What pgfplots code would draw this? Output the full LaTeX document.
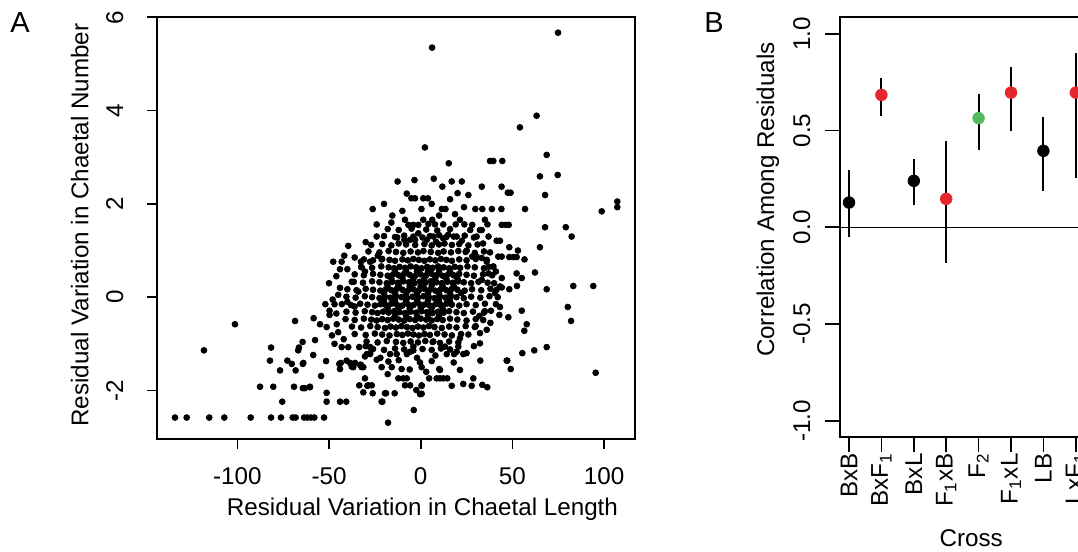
\documentclass[border=0pt]{standalone}
\usepackage{pgfplots}
\pgfplotsset{compat=1.18}
\usepackage{fontspec}
\setmainfont{Liberation Sans}
\definecolor{dotred}{RGB}{228,38,45}
\definecolor{dotgreen}{RGB}{85,185,95}
\begin{document}
\fontsize{12.1}{14}\selectfont
\begin{tikzpicture}
\pgfplotsset{
  rstyle/.style={
    scale only axis,
    axis line style={line width=0.8pt,black},
    tick align=outside,
    xtick pos=left, ytick pos=left,
    major tick style={line width=0.8pt,black},
    minor tick num=0,
    clip=true,
  }
}
% ---------------- Panel A ----------------
\begin{axis}[rstyle,
  at={(78.5pt,56.5pt)}, anchor=south west,
  width=239pt, height=210.85pt,
  xmin=-143.8, xmax=116.85, ymin=-3.04, ymax=6.0,
  major tick length=5pt,
  xtick={-100,-50,0,50,100}, xticklabels={-100,-50,0,50,100},
  ytick={-2,0,2,4,6}, yticklabels={-2,0,2,4,6},
  xticklabel style={anchor=base, yshift=-18pt, inner sep=0pt},
  yticklabel style={xshift=-12pt, rotate=90, anchor=base, inner sep=0pt},
  xlabel={Residual Variation in Chaetal Length},
  ylabel={Residual Variation in Chaetal Number},
  xlabel style={at={(axis description cs:0.5554,-0.1819)}, anchor=base, inner sep=0pt},
  ylabel style={at={(axis description cs:-0.1437,0.5075)}, anchor=base, inner sep=0pt},
]
\addplot[only marks, mark=*, mark size=1.45pt, black] coordinates {
(6.2,5.35) (74.9,5.67) (2.3,3.21) (15.3,2.87) (63.2,3.89) (54.1,3.64) (68.7,3.05)
(37.8,2.92) (39.6,2.92) (44.5,2.92)
(-12.6,2.48) (-3.4,2.51) (7.1,2.54) (11.8,2.37) (16.9,2.48) (22.4,2.48) (33.3,2.37) (44.1,2.37) (47.5,2.24) (49.0,2.24) (65,2.59) (74.7,2.62) (67.8,2.19)
(-7.6,2.22) (-5.1,2.12) (-3.1,2.12) (1.4,2.12) (3.9,2.12) (20.1,2.23) (26,2.19)
(-26.2,1.89) (-15.5,1.75) (-24,1.56) (0.4,1.89) (11.5,1.89) (13.5,1.89) (23.6,1.93) (29.8,1.89) (33.6,1.89) (38.8,1.89) (44,1.89) (56.9,1.89)
(107.2,2.05) (107.2,1.93) (98.7,1.84)
(-8.6,1.66) (-6.7,1.55) (-4,1.55) (-1.3,1.55) (1.4,1.66) (4.2,1.57) (6.3,1.66) (7.8,1.56) (12.3,1.56) (18.7,1.78) (19.1,1.56) (21.4,1.66) (23.8,1.56) (28.1,1.55) (32.3,1.44) (35,1.66) (36.4,1.56) (44.2,1.55) (46.3,1.55) (48,1.55)
(67.8,1.5) (79.1,1.5) (82.3,1.3) (65,1.07)
(-12.8,1.28) (-8.9,1.23) (-5.8,1.23) (-3.1,1.23) (-1.3,1.37) (3.3,1.23) (6.9,1.3) (8.3,1.19) (12.3,1.26) (15,1.34) (19.6,1.3) (22.4,1.21) (30.5,1.3) (33.3,1.44) (41.4,1.21) (43.2,1.21)
(-39.5,1.1) (-47.7,0.76) (-43.1,0.76) (-41.7,0.89) (-32.6,0.76) (-27.6,0.76) (-23.4,0.89) (-21.3,0.81)
(48.3,1.07) (53,1.0) (56.6,0.81) (48.3,0.86) (50.5,0.86) (52.3,0.86) (42.3,0.87) (44.2,0.87) (37.8,0.96) (36,0.76) (39.6,0.66) (28.1,0.87) (30.5,0.87) (33.3,0.84) (25.1,1.0)
(62.3,0.53) (52.3,0.51) (55.1,0.41) (44.2,0.41) (33.3,0.37) (36.9,0.51) (-37.6,0.33) (-32.2,0.64) (-30.4,0.55) (-34,0.12)
(68.7,0.17) (83.2,0.24) (94.1,0.24) (52.5,0.24) (48.3,0.17) (43.2,0.23) (41.4,0.16) (40.5,0.09) (44.2,0.21)
(80.2,-0.21) (82,-0.51) (55.1,-0.29) (57.8,-0.58) (56.5,-0.72) (43.2,-0.21) (42.9,-0.38) (47.8,-0.43) (38.3,-0.29)
(68.7,-1.07) (61.9,-1.14) (55.4,-1.2) (47.2,-1.36) (49.1,-1.54) (95.4,-1.62) (32.5,-1.36)
(21.4,-1.56) (23.2,-1.86) (27.8,-1.9) (28.7,-1.74) (33.6,-1.88) (36.3,-1.93) (16.9,-1.9)
(8.7,-1.74) (10.5,-1.74) (12.3,-1.74) (14.5,-1.74) (10.5,-1.56) (6,-1.37) (0.5,-1.9) (0.5,-2.07)
(32.3,-0.77) (34.1,-0.49) (32,-0.4) (32.3,-0.99) (21.4,-0.88) (20.5,-1.06) (19.6,-1.17) (23.2,-1.22) (18.2,-1.22) (14.2,-1.22) (13.2,-1.06)
(-134,-2.58) (-127.6,-2.58) (-115.3,-2.58) (-107.1,-2.58) (-92.7,-2.58) (-81.6,-2.58) (-76.2,-2.58) (-69.8,-2.58) (-68.2,-2.58) (-63.6,-2.58) (-61.8,-2.58) (-59.8,-2.58) (-58,-2.58) (-52.7,-2.58)
(-17.8,-2.69) (-101.3,-0.58) (-118.2,-1.14) (-3.8,-2.42)
(-75.5,-2.24) (-51.3,-2.24) (-44,-2.24) (-40.6,-2.24) (-20.9,-2.24)
(-87.6,-1.92) (-80.4,-1.92) (-69.1,-1.92) (-64.3,-1.95) (-60.4,-1.92) (-51.3,-2.05)
(-33.5,-1.89) (-31.3,-2.04) (-28.6,-1.89) (-26.7,-1.89) (-26.2,-2.06) (-18.9,-2.06) (-14.2,-2.06)
(-8.6,-1.89) (-5.8,-1.89) (-2.4,-1.99) (0.5,-1.89) (-0.3,-2.08)
(-12.2,-1.74) (-9.5,-1.74) (-7.6,-1.74) (4.6,-1.74)
(-76.7,-1.57) (-68.2,-1.57) (-72.7,-1.36) (-70.3,-1.43) (-64.3,-1.43) (-54.3,-1.69) (-82.2,-1.36)
(-81.6,-1.08) (-66.4,-1.08) (-66.8,-1.14) (-64.4,-0.96) (-58.6,-1.24) (-57.6,-0.92)
(-68.5,-0.51) (-58.4,-0.45) (-54.9,-0.58) (-51.3,-0.64) (-49.7,-0.29) (-49.7,-0.38) (-48.4,-0.82) (-45.8,-0.58)
(-51.6,-1.37) (-44.4,-1.43) (-44,-1.54) (-40.4,-1.36) (-39.5,-1.07) (-43.1,-1.07)
(-37.6,-1.49) (-32.6,-1.45) (-30.4,-1.27) (-27.6,-1.2) (-33.5,-1.07) (-27.6,-1.07)
(-64,-1.41) (-63.2,-1.95) (-60.4,-1.93)
(-43.6,-1.41) (-38.5,-1.41) (-36.8,-1.5) (-33.1,-1.45) (-31.3,-1.5) (-30.4,-1.74) (-29.1,-1.9) (-19.5,-2.06) (-21.3,-2.24)
(-10.4,-1.54) (-0.4,-1.4) (0.5,-1.5) (10.1,-1.54)
(6.9,-0.95) (-4,-1.06) (-5.8,-1.17) (-7.6,-1.22) (-13.1,-1.22) (-16.7,-1.22) (-17.6,-1.38) (-15.8,-1.5) (-21.3,-1.5) (-24,-1.34) (-27.6,-1.22) (-29.4,-1.22) (-35.8,-1.41) (-32.2,-1.5)
(46.9,-1.36) (-36,-0.2) (-40,-0.1) (-45,0.05) (-47,-0.15)
(-46,0.45) (-44,0.2) (-48,-0.05) (-46,-0.35) (-45,-0.75) (-42,-0.9) (-40,0.6) (-36,0.85) (-44,0.6) (-50,0.3) (-52,-0.15) (-47,-1.0)
(40,0.3) (42,0.0) (41,-0.15) (38,-0.55) (36,-0.7) (37,0.65) (41,0.55) (26,-0.8) (29,-1.05) (25,-1.2) (30,-0.62) (35,-0.3)
(-24,1.3) (-30,1.18) (34,1.15) (37,1.3) (-16,1.6) (10,1.75) (-10,1.85) (6,2.0) (-20,2.0) (16,2.1)
(-22,-1.3) (-12,-1.35) (-2,-1.3) (8,-1.25) (-30,-1.05) (3,-1.6) (-6,-1.55) (-18,-1.65) (18,-1.4)
(-18,1.46) (-12,1.44) (-5,1.47) (3,1.45) (9,1.43) (16,1.46) (27,1.44)
(-20,1.31) (-14,1.29) (-9,1.32) (-4,1.30) (1,1.28) (5,1.31) (10,1.33) (14,1.29) (18,1.30) (24,1.32) (29,1.28)
(-27,1.12) (-21,1.14) (-16,1.11) (-12,1.15) (-8,1.13) (-3,1.12) (2,1.14) (6,1.11) (10,1.13) (13,1.15) (17,1.12) (21,1.14) (26,1.11) (31,1.13)
(-28.5,0.98) (-22.5,0.96) (-17.5,0.99) (-13.5,0.97) (-9.5,0.95) (-5.5,0.98) (-1.5,0.96) (1.5,0.99) (5.5,0.97) (9.5,0.95) (12.5,0.98) (16.5,0.96) (20.5,0.99) (24.5,0.97) (29.5,0.95) (34.5,0.98)
(-31,0.81) (-26,0.79) (-21,0.82) (-17,0.80) (-14,0.78) (-10,0.81) (-7,0.79) (-4,0.82) (-1,0.80) (2,0.78) (5,0.81) (8,0.79) (11,0.82) (14,0.80) (17,0.78) (21,0.81) (25,0.79) (30,0.82) (36,0.80)
(-32.5,0.65) (-26.5,0.63) (-21.5,0.66) (-17.5,0.64) (-14.5,0.62) (-11.5,0.65) (-8.5,0.63) (-5.5,0.66) (-2.5,0.64) (0.5,0.62) (3.5,0.65) (6.5,0.63) (9.5,0.66) (12.5,0.64) (15.5,0.62) (18.5,0.65) (21.5,0.63) (25.5,0.66) (29.5,0.64) (34.5,0.62) (39.5,0.65)
(-36,0.49) (-31,0.47) (-26,0.50) (-22,0.48) (-18,0.46) (-15,0.49) (-12,0.47) (-9,0.50) (-6,0.48) (-3,0.46) (0,0.49) (3,0.47) (6,0.50) (9,0.48) (12,0.46) (15,0.49) (18,0.47) (21,0.50) (25,0.48) (29,0.46) (34,0.49) (39,0.47)
(-36.5,0.33) (-31.5,0.31) (-26.5,0.34) (-22.5,0.32) (-18.5,0.30) (-15.5,0.33) (-12.5,0.31) (-9.5,0.34) (-6.5,0.32) (-3.5,0.30) (-0.5,0.33) (2.5,0.31) (5.5,0.34) (8.5,0.32) (11.5,0.30) (14.5,0.33) (17.5,0.31) (20.5,0.34) (23.5,0.32) (27.5,0.30) (31.5,0.33) (36.5,0.31)
(-40,0.17) (-35,0.15) (-30,0.18) (-26,0.16) (-22,0.14) (-19,0.17) (-16,0.15) (-13,0.18) (-10,0.16) (-7,0.14) (-4,0.17) (-1,0.15) (2,0.18) (5,0.16) (8,0.14) (11,0.17) (14,0.15) (17,0.18) (20,0.16) (24,0.14) (28,0.17) (33,0.15) (38,0.18)
(-40.5,0.01) (-35.5,-0.01) (-30.5,0.02) (-26.5,0.00) (-22.5,-0.02) (-19.5,0.01) (-16.5,-0.01) (-13.5,0.02) (-10.5,0.00) (-7.5,-0.02) (-4.5,0.01) (-1.5,-0.01) (1.5,0.02) (4.5,0.00) (7.5,-0.02) (10.5,0.01) (13.5,-0.01) (16.5,0.02) (19.5,0.00) (23.5,-0.02) (27.5,0.01) (32.5,-0.01) (37.5,0.02)
(-43,-0.15) (-38,-0.17) (-33,-0.14) (-29,-0.16) (-25,-0.18) (-22,-0.15) (-19,-0.17) (-16,-0.14) (-13,-0.16) (-10,-0.18) (-7,-0.15) (-4,-0.17) (-1,-0.14) (2,-0.16) (5,-0.18) (8,-0.15) (11,-0.17) (14,-0.14) (17,-0.16) (21,-0.18) (25,-0.15) (30,-0.17) (35,-0.14)
(-40.5,-0.31) (-35.5,-0.33) (-30.5,-0.30) (-26.5,-0.32) (-23.5,-0.34) (-20.5,-0.31) (-17.5,-0.33) (-14.5,-0.30) (-11.5,-0.32) (-8.5,-0.34) (-5.5,-0.31) (-2.5,-0.33) (0.5,-0.30) (3.5,-0.32) (6.5,-0.34) (9.5,-0.31) (12.5,-0.33) (15.5,-0.30) (19.5,-0.32) (23.5,-0.34) (28.5,-0.31) (34.5,-0.33)
(-41,-0.47) (-36,-0.49) (-31,-0.46) (-27,-0.48) (-24,-0.50) (-21,-0.47) (-18,-0.49) (-15,-0.46) (-12,-0.48) (-9,-0.50) (-6,-0.47) (-3,-0.49) (0,-0.46) (3,-0.48) (6,-0.50) (9,-0.47) (12,-0.49) (16,-0.46) (20,-0.48) (25,-0.50) (30,-0.47)
(-37.5,-0.63) (-32.5,-0.65) (-27.5,-0.62) (-23.5,-0.64) (-19.5,-0.66) (-16.5,-0.63) (-13.5,-0.65) (-10.5,-0.62) (-7.5,-0.64) (-4.5,-0.66) (-1.5,-0.63) (1.5,-0.65) (4.5,-0.62) (7.5,-0.64) (11.5,-0.66) (15.5,-0.63) (19.5,-0.65) (24.5,-0.62) (29.5,-0.64)
(-36,-0.79) (-30,-0.81) (-25,-0.78) (-21,-0.80) (-17,-0.82) (-13,-0.79) (-10,-0.81) (-7,-0.78) (-4,-0.80) (-1,-0.82) (2,-0.79) (5,-0.81) (9,-0.78) (13,-0.80) (17,-0.82) (22,-0.79)
(-29.5,-0.95) (-23.5,-0.97) (-18.5,-0.94) (-13.5,-0.96) (-9.5,-0.98) (-5.5,-0.95) (-1.5,-0.97) (2.5,-0.94) (6.5,-0.96) (10.5,-0.98) (15.5,-0.95) (20.5,-0.97)
(-26,-1.11) (-20,-1.13) (-14,-1.10) (-9,-1.12) (-4,-1.14) (1,-1.11) (6,-1.13) (11,-1.10) (16,-1.12)
(-14,0.56) (-8,0.57) (-2,0.55) (4,0.56) (10,0.57) (16,0.55)
(-16,0.40) (-10,0.41) (-4,0.39) (2,0.40) (8,0.41) (14,0.39) (20,0.40)
(-18,0.24) (-12,0.25) (-6,0.23) (0,0.24) (6,0.25) (12,0.23) (18,0.24)
(-20,0.08) (-14,0.09) (-8,0.07) (-2,0.08) (4,0.09) (10,0.07) (16,0.08) (22,0.09)
(-20,-0.08) (-14,-0.07) (-8,-0.09) (-2,-0.08) (4,-0.07) (10,-0.09) (16,-0.08)
(-18,-0.24) (-12,-0.23) (-6,-0.25) (0,-0.24) (6,-0.23) (12,-0.25)
(-14,-0.40) (-8,-0.39) (-2,-0.41) (4,-0.40) (10,-0.39)
};
\end{axis}
% ---------------- Panel B ----------------
\begin{axis}[rstyle,
  at={(420pt,57.35pt)}, anchor=south west,
  width=122.4pt, height=210pt,
  xmin=0.722, xmax=8.278, ymin=-1.085, ymax=1.085,
  major tick length=7.5pt,
  xtick={1,2,3,4,5,6,7,8},
  xticklabels={BxB,BxF\textsubscript{1},BxL,F\textsubscript{1}xB,F\textsubscript{2},F\textsubscript{1}xL,LB,LxF\textsubscript{1}},
  ytick={-1,-0.5,0,0.5,1}, yticklabels={-1.0,-0.5,0.0,0.5,1.0},
  xticklabel style={yshift=-0.4pt, rotate=90, anchor=east, inner sep=0pt},
  yticklabel style={xshift=-7.5pt, rotate=90, anchor=base, inner sep=0pt},
  xlabel={Cross},
  ylabel={Correlation Among Residuals},
  xlabel style={at={(axis description cs:0.536,-0.2605)}, anchor=base, inner sep=0pt},
  ylabel style={at={(axis description cs:-0.2696,0.566)}, anchor=base, inner sep=0pt},
]
\addplot[black, line width=0.7pt, forget plot] coordinates {(0.5,0) (8.5,0)};
\addplot[only marks, mark=none, forget plot,
  error bars/.cd, y dir=both, y explicit, error mark=none,
  error bar style={draw=black, line width=1pt}]
  coordinates {
  (1,0.128) += (0,0.169) -= (0,0.178)
  (2,0.684) += (0,0.087) -= (0,0.107)
  (3,0.240) += (0,0.115) -= (0,0.124)
  (4,0.147) += (0,0.301) -= (0,0.329)
  (5,0.564) += (0,0.126) -= (0,0.165)
  (6,0.696) += (0,0.131) -= (0,0.201)
  (7,0.395) += (0,0.174) -= (0,0.210)
  (8,0.696) += (0,0.204) -= (0,0.442)
};
\addplot[only marks, mark=*, mark size=2.9pt, mark options={draw=black, fill=black}]
  coordinates {(1,0.128) (3,0.240) (7,0.395)};
\addplot[only marks, mark=*, mark size=2.9pt, mark options={draw=dotred, fill=dotred}]
  coordinates {(2,0.684) (4,0.147) (6,0.696) (8,0.696)};
\addplot[only marks, mark=*, mark size=2.9pt, mark options={draw=dotgreen, fill=dotgreen}]
  coordinates {(5,0.564)};
\end{axis}
\node[anchor=base west, inner sep=0pt, font=\fontsize{14.5}{16}\selectfont] at (5pt,259.5pt) {A};
\node[anchor=base west, inner sep=0pt, font=\fontsize{14.5}{16}\selectfont] at (352pt,259.5pt) {B};
\pgfresetboundingbox
\path[use as bounding box] (0,0) rectangle (539pt,276pt);
\end{tikzpicture}
\end{document}
